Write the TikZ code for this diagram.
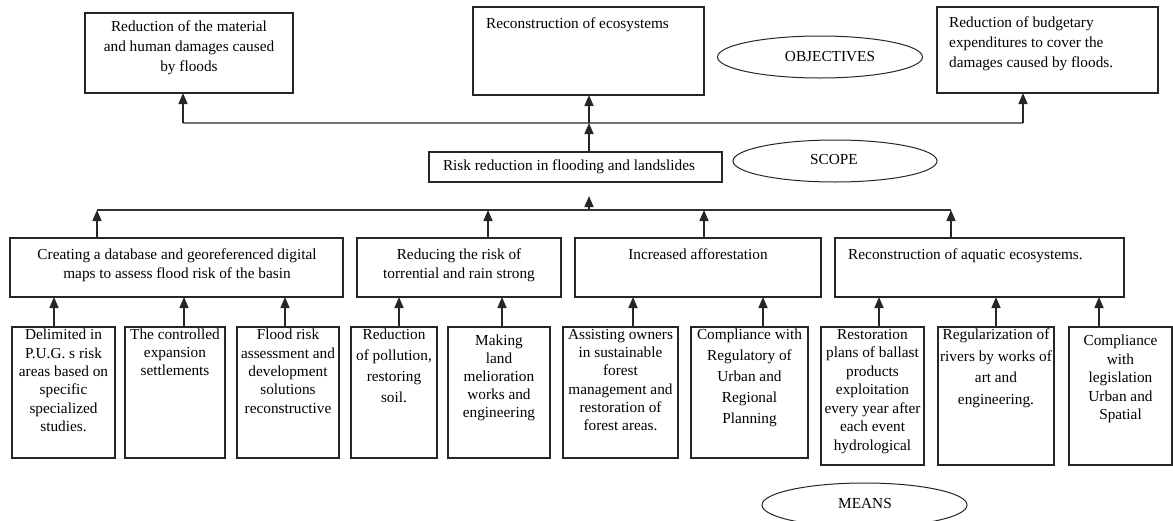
\documentclass[tikz,border=0pt]{standalone}
\usepackage{fontspec}
\setmainfont{Liberation Serif}
\usetikzlibrary{arrows.meta,shapes.geometric}
\begin{document}
\begin{tikzpicture}[x=1pt,y=-1pt,
  box/.style={draw=black!85, line width=1.2pt, inner sep=0pt, outer sep=0pt, anchor=north west},
  txt/.style={inner sep=0pt, anchor=north, align=center, font=\fontsize{15.3}{#1}\selectfont},
  txt/.default=18,
  ltxt/.style={inner sep=0pt, anchor=north west, align=left, font=\fontsize{15.3}{#1}\selectfont},
  ltxt/.default=20,
  ell/.style={draw=black!85, line width=1pt, ellipse, inner sep=0pt},
  etxt/.style={inner sep=0pt, font=\fontsize{15.3}{18}\selectfont},
  arr/.style={draw=black!85, line width=1.5pt, -{Triangle[width=9pt,length=11pt]}},
  bus/.style={draw=black!55, line width=1.6pt},
  bus2/.style={draw=black!80, line width=1.5pt}]
\useasboundingbox (0,0) rectangle (1173,520);

% ---------- objectives ----------
\node[box, minimum width=208, minimum height=80] (A) at (85,13) {};
\node[txt=20] (Atx) at (189,21) {Reduction of the material\\and human damages caused\\by floods};
\node[box, minimum width=231, minimum height=88] (B) at (473,7) {};
\node[ltxt] (Btx) at (486,18) {Reconstruction of ecosystems};
\node[box, minimum width=221, minimum height=86] (C) at (937,7) {};
\node[ltxt=20] (Ctx) at (949,17) {Reduction of budgetary\\expenditures to cover the\\damages caused by floods.};
\node[ell, minimum width=205, minimum height=42] (obj) at (820,57) {};
\node[etxt] (objtx) at (830,57) {OBJECTIVES};

% ---------- scope ----------
\node[box, minimum width=293, minimum height=30] (S) at (429,152) {};
\node[etxt] (Stx) at (569,167) {Risk reduction in flooding and landslides};
\node[ell, minimum width=204, minimum height=42] (scp) at (835,161) {};
\node[etxt] (scptx) at (834,160) {SCOPE};

% ---------- second row ----------
\node[box, minimum width=333, minimum height=59] (R1) at (10,238) {};
\node[txt=19] (R1tx) at (177,249) {Creating a database and georeferenced digital\\maps to assess flood risk of the basin};
\node[box, minimum width=204, minimum height=59] (R2) at (357,238) {};
\node[txt=19] (R2tx) at (459,249) {Reducing the risk of\\torrential and rain strong};
\node[box, minimum width=246, minimum height=59] (R3) at (575,238) {};
\node[txt] (R3tx) at (698,249) {Increased afforestation};
\node[box, minimum width=289, minimum height=59] (R4) at (835,238) {};
\node[ltxt] (R4tx) at (848,249) {Reconstruction of aquatic ecosystems.};

% ---------- means ----------
\node[box, minimum width=103, minimum height=131] (M1) at (12,327) {};
\node[txt=18.3] (M1tx) at (63.5,329) {Delimited in\\P.U.G. s risk\\areas based on\\specific\\specialized\\studies.};
\node[box, minimum width=100, minimum height=131] (M2) at (125,327) {};
\node[txt=18] (M2tx) at (175,329) {The controlled\\expansion\\settlements};
\node[box, minimum width=102, minimum height=131] (M3) at (237,327) {};
\node[txt=18.3] (M3tx) at (288,329) {Flood risk\\assessment and\\development\\solutions\\reconstructive};
\node[box, minimum width=86, minimum height=131] (M4) at (351,327) {};
\node[txt=21] (M4tx) at (394,329) {Reduction\\of pollution,\\restoring\\soil.};
\node[box, minimum width=102, minimum height=131] (M5) at (448,327) {};
\node[txt=18] (M5tx) at (499,335) {Making\\land\\melioration\\works and\\engineering};
\node[box, minimum width=115, minimum height=131] (M6) at (563,327) {};
\node[txt=18.3] (M6tx) at (620.5,329) {Assisting owners\\in sustainable\\forest\\management and\\restoration of\\forest areas.};
\node[box, minimum width=117, minimum height=131] (M7) at (691,327) {};
\node[txt=21] (M7tx) at (749.5,329) {Compliance with\\Regulatory of\\Urban and\\Regional\\Planning};
\node[box, minimum width=103, minimum height=138] (M8) at (821,327) {};
\node[txt=18.5] (M8tx) at (872.5,329) {Restoration\\plans of ballast\\products\\exploitation\\every year after\\each event\\hydrological};
\node[box, minimum width=116, minimum height=138] (M9) at (938,327) {};
\node[txt=21.5] (M9tx) at (996,329) {Regularization of\\rivers by works of\\art and\\engineering.};
\node[box, minimum width=103, minimum height=138] (M10) at (1069,327) {};
\node[txt=18.5] (M10tx) at (1120.5,335) {Compliance\\with\\legislation\\Urban and\\Spatial};
\node[ell, minimum width=205, minimum height=44] (mns) at (864.5,505) {};
\node[etxt] (mnstx) at (865,504) {MEANS};

% ---------- top bus ----------
\coordinate (t1) at (183,123);
\coordinate (t2) at (589,123);
\coordinate (t3) at (1023,123);
\draw[bus] (t1) -- (t3);
\draw[arr] (t1) -- (t1 |- A.south);
\draw[arr] (t2) -- (t2 |- B.south);
\draw[arr] (t3) -- (t3 |- C.south);
\draw[arr] (t2 |- S.north) -- (t2);

% ---------- second bus ----------
\coordinate (s1) at (97,210);
\coordinate (s2) at (488,210);
\coordinate (s3) at (704,210);
\coordinate (s4) at (951,210);
\coordinate (s0) at (589,210);
\coordinate (s0t) at (589,196);
\draw[bus2] (s1) -- (s4);
\draw[arr] (s0) -- (s0t);
\draw[arr] (s1 |- R1.north) -- (s1);
\draw[arr] (s2 |- R2.north) -- (s2);
\draw[arr] (s3 |- R3.north) -- (s3);
\draw[arr] (s4 |- R4.north) -- (s4);

% ---------- means arrows ----------
\draw[arr] (54,0 |- M1.north) -- (54,0 |- R1.south);
\draw[arr] (184,0 |- M2.north) -- (184,0 |- R1.south);
\draw[arr] (285,0 |- M3.north) -- (285,0 |- R1.south);
\draw[arr] (399,0 |- M4.north) -- (399,0 |- R2.south);
\draw[arr] (502,0 |- M5.north) -- (502,0 |- R2.south);
\draw[arr] (633,0 |- M6.north) -- (633,0 |- R3.south);
\draw[arr] (763,0 |- M7.north) -- (763,0 |- R3.south);
\draw[arr] (879,0 |- M8.north) -- (879,0 |- R4.south);
\draw[arr] (996,0 |- M9.north) -- (996,0 |- R4.south);
\draw[arr] (1099,0 |- M10.north) -- (1099,0 |- R4.south);
\end{tikzpicture}
\end{document}
